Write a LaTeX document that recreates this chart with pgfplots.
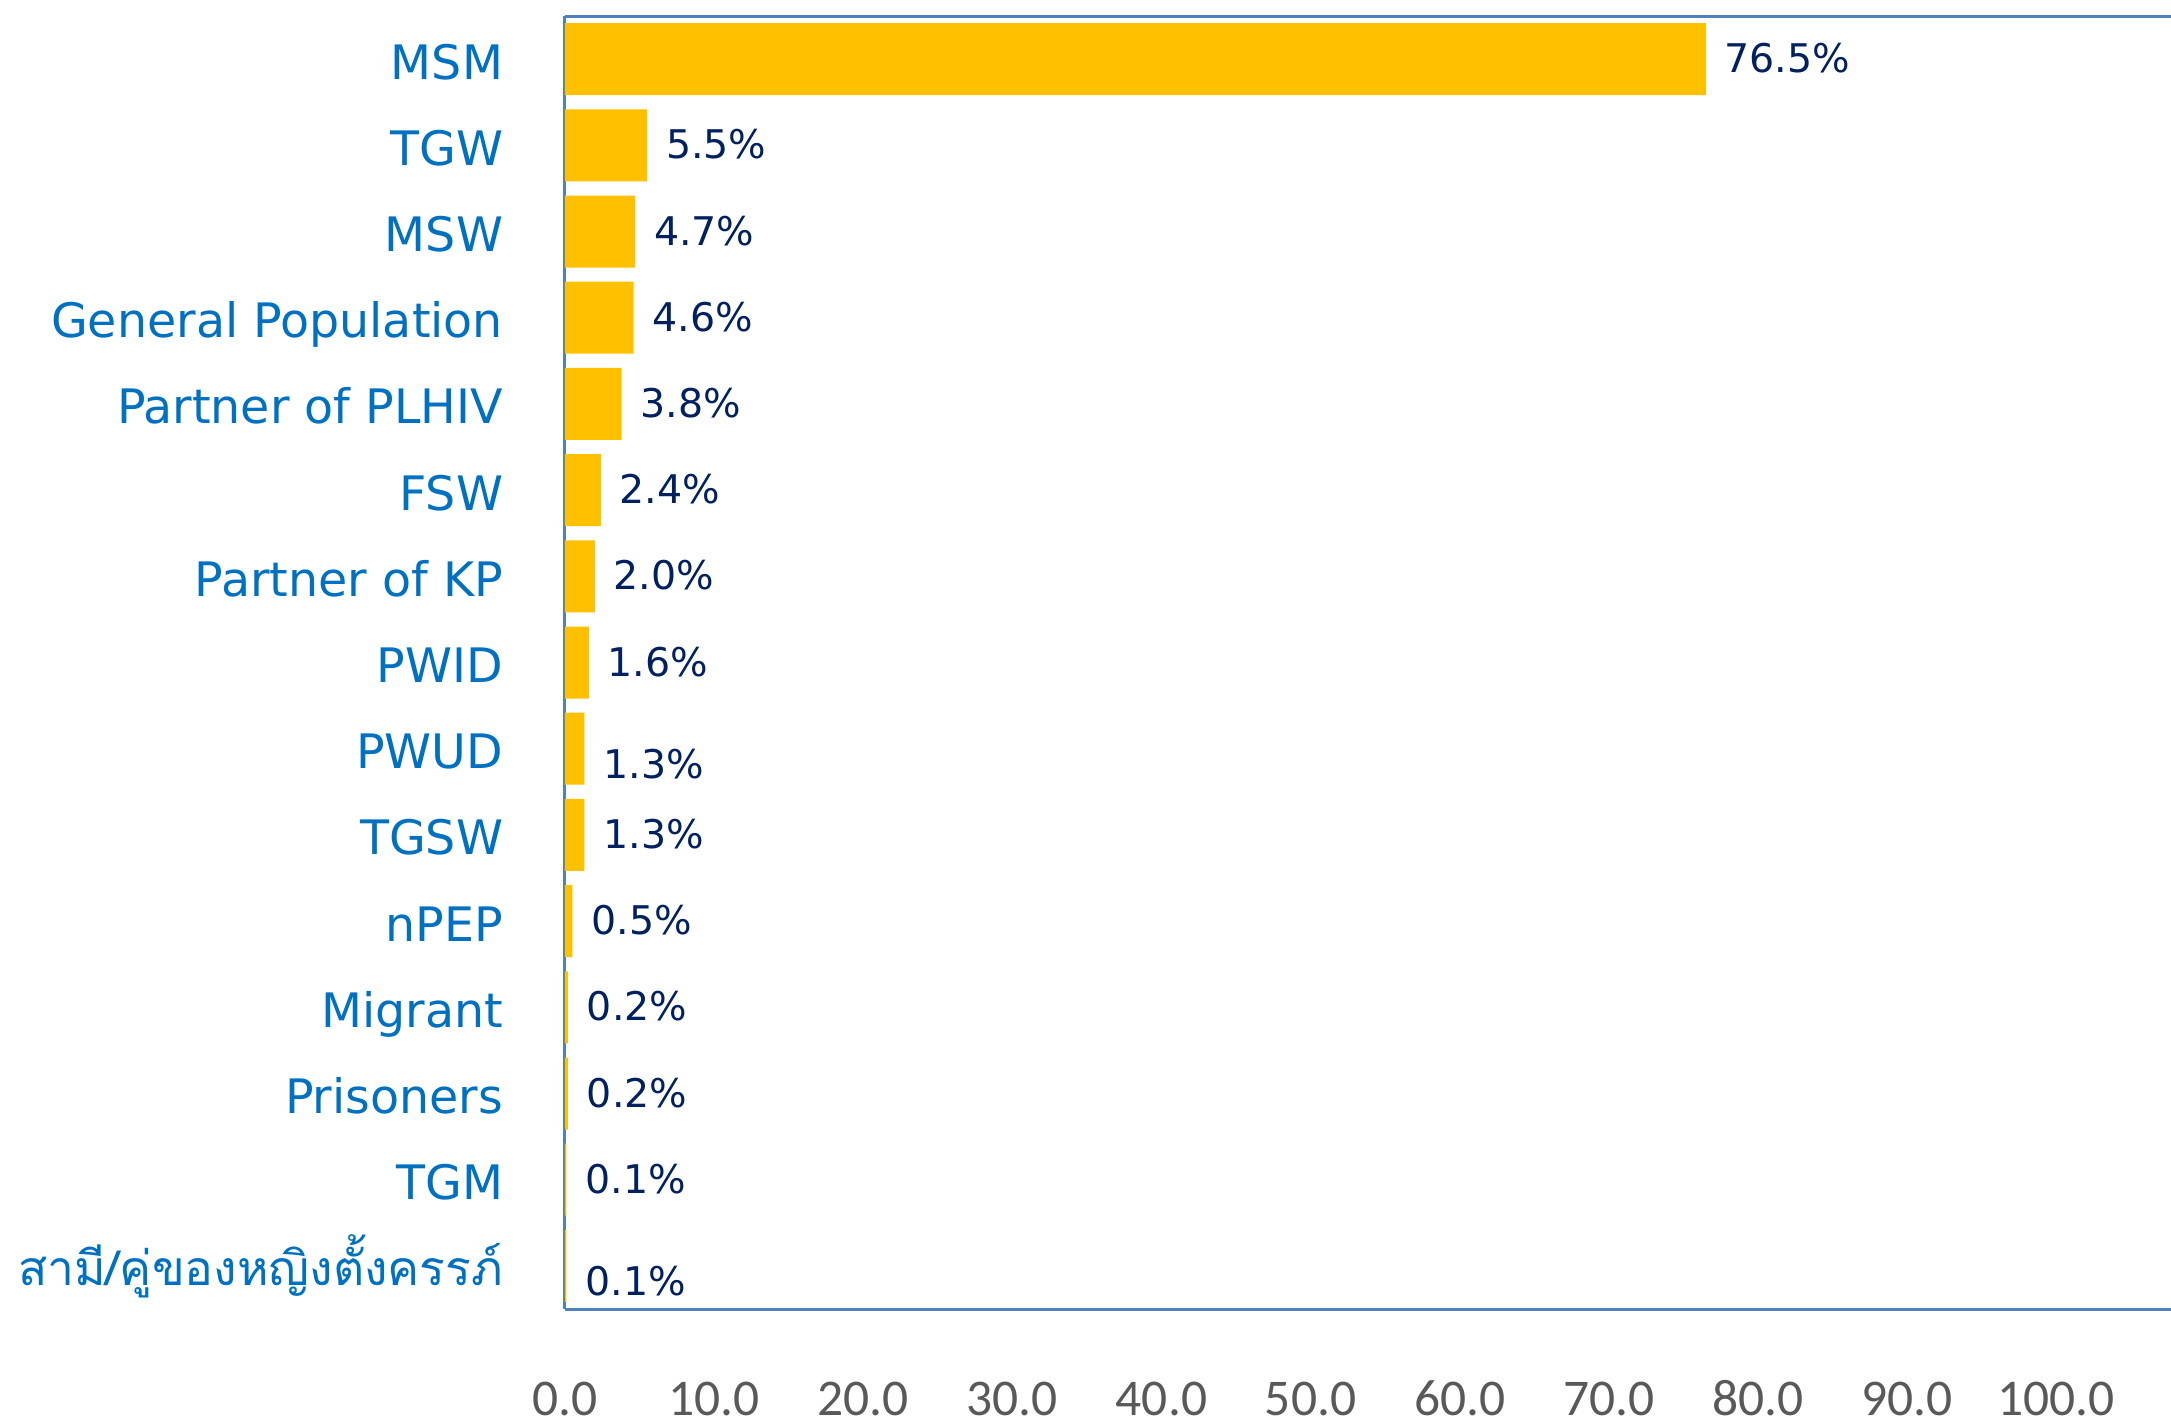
\documentclass[border=0pt]{standalone}
\usepackage{pgfplots}
\pgfplotsset{compat=1.18}
\usepackage{pgfplotstable}
\usepackage{fontspec}
\setmainfont{DejaVu Sans}
\newfontfamily\thaifont[Script=Thai]{Loma}
\newfontfamily\tickfont{Carlito}

\definecolor{barcol}{HTML}{FFC000}
\definecolor{catblue}{HTML}{0070C0}
\definecolor{valnavy}{HTML}{002060}
\definecolor{axcol}{HTML}{4F81BD}
\definecolor{tickgray}{HTML}{595959}

% share of cases by group, top to bottom
\pgfplotstableread{
idx value
0 76.5
1 5.5
2 4.7
3 4.6
4 3.8
5 2.4
6 2.0
7 1.6
8 1.3
9 1.3
10 0.5
11 0.2
12 0.2
13 0.1
14 0.1
}\groups

% where the value labels sit (two of them hang a little lower)
\pgfplotstableread{
x y lab
76.5 0 76.5\%
5.5 1 5.5\%
4.7 2 4.7\%
4.6 3 4.6\%
3.8 4 3.8\%
2.4 5 2.4\%
2.0 6 2.0\%
1.6 7 1.6\%
1.3 8.186 1.3\%
1.3 9 1.3\%
0.5 10 0.5\%
0.2 11 0.2\%
0.2 12 0.2\%
0.1 13 0.1\%
0.1 14.186 0.1\%
}\labels

\begin{document}
\begin{tikzpicture}
\begin{axis}[
    name=ax,
    scale only axis,
    width=321.2pt, height=258.6pt,
    xmin=0, xmax=107.7,
    ymin=-0.5, ymax=14.5,
    y dir=reverse,
    axis x line=box,
    axis y line=left,
    axis line style={draw=axcol, line width=0.6pt, -},
    major tick length=0pt,
    xtick={0,10,...,100},
    /pgf/number format/assume math mode=true,
    xticklabel={\tickfont\pgfmathprintnumber[fixed,fixed zerofill,precision=1]{\tick}},
    xticklabel style={anchor=base, inner sep=0pt, yshift=-21.2pt,
        font=\fontsize{10.3}{12}\selectfont, text=tickgray},
    ytick={0,...,14},
    yticklabels={MSM, TGW, MSW, General Population, Partner of PLHIV, FSW,
        Partner of KP, PWID, PWUD, TGSW, nPEP, Migrant, Prisoners, TGM,
        {\thaifont\fontsize{9.6}{11}\selectfont สามี/คู่ของหญิงตั้งครรภ์}},
    yticklabel style={anchor=base east, inner sep=0pt, xshift=-12.2pt, yshift=-4pt,
        font=\fontsize{9.5}{11}\selectfont, text=catblue},
    clip=false,
]
\addplot[xbar, bar width=0.835, fill=barcol, draw=none]
    table[x=value, y=idx] {\groups};
\addplot[draw=none, mark=none,
    nodes near coords,
    point meta=explicit symbolic,
    every node near coord/.style={anchor=base west, inner sep=0pt,
        xshift=3.6pt, yshift=-2.7pt, text=valnavy,
        font=\fontsize{7.9}{9}\selectfont}]
    table[x=x, y=y, meta=lab] {\labels};
\end{axis}
\pgfresetboundingbox
\path ([xshift=-113pt, yshift=-22.6pt]ax.south west) rectangle ([yshift=3.2pt]ax.north east);
\end{tikzpicture}
\end{document}
